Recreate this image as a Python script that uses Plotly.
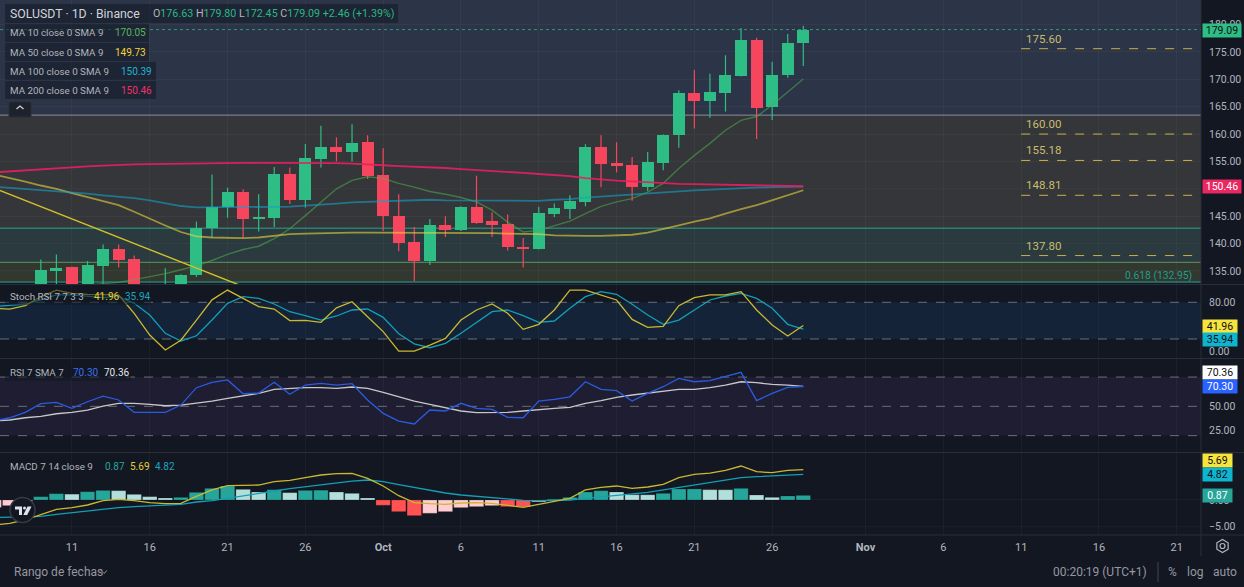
import math
import plotly.graph_objects as go
from plotly.subplots import make_subplots
import pandas as pd

# ---------------- data ----------------
dates = pd.date_range("2024-09-06", periods=53, freq="D")

open_ = [131.8, 128.0, 131.0, 130.2, 134.9, 135.7, 131.9, 135.9, 139.0, 137.1,
         131.0, 130.5, 132.2, 134.2, 142.8, 146.6, 149.5, 144.5, 144.65, 152.65,
         147.9, 155.5, 157.7, 156.7, 158.5, 152.5, 145.0, 140.2, 136.8, 143.3,
         142.5, 146.6, 144.05, 143.5, 139.35, 139.0, 145.4, 146.25, 147.6, 157.65,
         154.7, 154.3, 150.4, 154.7, 159.75, 167.5, 166.1, 167.55, 170.7, 177.1,
         164.9, 170.85, 176.63]
high_ = [132.5, 132.4, 132.6, 137.1, 138.0, 135.8, 136.8, 139.8, 139.8, 137.8,
         132.4, 135.5, 134.4, 144.0, 152.6, 150.2, 149.9, 149.0, 154.0, 153.9,
         158.2, 161.5, 159.4, 161.8, 159.8, 157.4, 149.0, 143.0, 144.5, 145.0,
         146.8, 152.4, 145.7, 145.3, 141.0, 146.7, 147.3, 148.8, 158.15, 159.8,
         158.5, 155.8, 156.7, 159.9, 168.0, 171.7, 171.0, 174.4, 179.4, 177.6,
         173.2, 178.3, 179.80]
low_ = [126.2, 127.3, 128.6, 129.5, 131.8, 129.5, 130.8, 131.9, 135.6, 130.4,
        127.7, 129.4, 128.6, 133.9, 141.1, 144.7, 141.1, 142.2, 143.0, 147.2,
        146.6, 153.9, 155.0, 155.0, 151.8, 142.3, 138.6, 133.1, 136.05, 141.2,
        142.3, 143.6, 141.2, 138.7, 135.6, 138.9, 144.8, 144.5, 146.8, 150.3,
        153.0, 147.8, 149.6, 153.4, 157.5, 161.0, 163.0, 164.1, 170.5, 159.1,
        162.55, 170.3, 172.45]
close_ = [128.0, 131.0, 130.2, 135.1, 135.6, 131.8, 136.0, 139.0, 137.0, 131.0,
          130.5, 132.2, 134.3, 142.8, 146.6, 149.5, 144.5, 144.8, 152.65, 147.9,
          155.6, 157.7, 156.7, 158.4, 152.4, 145.0, 140.15, 136.8, 143.3, 142.5,
          146.6, 143.75, 143.4, 139.35, 139.0, 145.5, 146.4, 147.7, 157.65, 154.6,
          154.2, 150.3, 154.85, 159.85, 167.5, 166.1, 167.7, 170.85, 177.1, 164.75,
          170.85, 176.7, 179.09]

ma10 = [131.0, 131.2, 131.4, 131.7, 132.0, 132.2, 132.4, 132.7, 132.9, 133.4,
        133.9, 134.5, 135.2, 135.9, 136.9, 138.0, 138.9, 139.5, 140.9, 142.7,
        145.1, 147.6, 150.0, 151.55, 152.2, 151.9, 151.0, 150.3, 149.5, 149.0,
        148.4, 147.6, 146.1, 143.9, 142.1, 142.4, 143.3, 144.1, 145.45, 146.8,
        147.6, 148.2, 149.4, 151.0, 153.7, 156.1, 158.3, 160.7, 162.5, 163.2,
        165.3, 167.7, 170.05]
ma50 = [152.6, 152.0, 151.3, 150.6, 150.0, 149.2, 148.5, 147.7, 147.0, 145.8,
        144.5, 143.3, 142.1, 141.3, 141.1, 141.0, 141.0, 141.1, 141.4, 141.7,
        141.8, 141.9, 141.9, 142.0, 142.0, 142.0, 141.9, 141.9, 141.9, 141.9,
        141.9, 141.9, 141.9, 141.8, 141.75, 141.7, 141.5, 141.4, 141.4, 141.4,
        141.45, 141.6, 142.0, 142.6, 143.3, 144.0, 144.6, 145.45, 146.3, 147.0,
        147.9, 148.8, 149.73]
ma100 = [150.4, 150.2, 150.0, 149.7, 149.55, 149.4, 149.1, 148.8, 148.6, 148.3,
         147.9, 147.4, 146.85, 146.6, 146.6, 146.6, 146.6, 146.6, 146.7, 146.75,
         146.9, 147.1, 147.3, 147.5, 147.6, 147.8, 147.9, 148.0, 148.0, 147.9,
         147.9, 147.8, 147.8, 147.8, 147.8, 147.8, 148.0, 148.1, 148.4, 148.6,
         148.8, 149.0, 149.2, 149.4, 149.55, 149.7, 149.85, 150.0, 150.1, 150.2,
         150.3, 150.35, 150.39]
ma200 = [153.0, 153.2, 153.4, 153.6, 153.8, 154.0, 154.1, 154.25, 154.4, 154.45,
         154.5, 154.55, 154.6, 154.7, 154.7, 154.75, 154.75, 154.75, 154.75, 154.75,
         154.75, 154.75, 154.7, 154.6, 154.5, 154.3, 154.15, 154.05, 154.0, 153.8,
         153.6, 153.45, 153.25, 153.1, 152.9, 152.7, 152.5, 152.3, 151.95, 151.7,
         151.5, 151.35, 151.2, 151.0, 150.9, 150.85, 150.8, 150.7, 150.65, 150.6,
         150.55, 150.5, 150.46]

stoch_k = [70, 69, 74.5, 89, 100, 94.7, 93, 93, 92, 62,
           26.5, 2, 18, 51, 84, 100, 86.5, 73, 69, 50,
           50.5, 47.3, 71, 81, 56.5, 32, 0, 0.3, 10, 21,
           51, 67.4, 77.2, 62, 35.8, 44, 67.4, 100, 100, 92,
           83.8, 52, 39, 40.7, 74.5, 87.5, 92, 92, 97.4, 67.4,
           42.8, 24.8, 41.96]
stoch_d = [73, 75, 77.2, 83.8, 92, 92, 89.8, 87.6, 89.2, 78.4,
           59.2, 29.3, 16.7, 25.3, 51, 78.4, 89.2, 86.5, 77.2, 64.6,
           58.1, 51, 57.6, 67.4, 69, 55.4, 28.5, 12, 5.7, 12.9,
           29.3, 47.3, 64.6, 67.4, 58.1, 47.3, 49.4, 70.2, 89.2, 97.4,
           93.1, 76.7, 59.2, 44, 51, 67.4, 83.8, 90.3, 94.7, 86.5,
           70.2, 44, 35.94]

rsi = [35, 38.3, 43.8, 52.7, 54.1, 47.9, 54.7, 60.5, 56.5, 43.8,
       43.8, 43.8, 51.3, 69.1, 74.6, 77, 62.9, 63.6, 74.6, 62.3,
       71.8, 73.5, 71.8, 73.2, 56.5, 42.8, 34.9, 31.9, 46.2, 45.2,
       53.1, 47.9, 46.9, 38.7, 38.3, 55.4, 57.1, 59.8, 75.2, 67.4,
       66, 55.4, 63.3, 70.1, 78.7, 75.2, 76.3, 80.3, 84.8, 55.8,
       63.3, 69.5, 70.30]
rsi_sma = [35, 36, 38.3, 39.7, 42.4, 43.8, 46.2, 50.3, 53.1, 53.1,
           52.0, 50.6, 51.3, 53.1, 55.4, 58.2, 60.9, 63.3, 67.4, 68.4,
           69.1, 69.1, 68.4, 69.8, 68.4, 64.3, 59.8, 55.4, 52, 48.6,
           45.2, 43.5, 43.5, 43.8, 45.2, 46.2, 47.9, 49, 53.1, 55.8,
           59.2, 61.6, 63.3, 65, 67.4, 67.4, 69.1, 71.8, 75.2, 74.2,
           72.5, 71.8, 70.36]

macd = [-4.7, -4.38, -3.75, -2.69, -1.75, -1.44, -0.94, -0.13, 0.13, -0.13,
        -0.5, -0.69, -0.63, 0.69, 1.88, 2.69, 2.81, 2.81, 3.44, 3.69,
        4.19, 4.69, 4.94, 5.0, 4.06, 2.63, 0.81, -0.5, -0.69, -0.81,
        -0.56, -0.5, -0.63, -0.94, -1.38, -0.81, -0.31, 0.31, 1.88, 2.38,
        2.63, 2.19, 2.44, 2.94, 4.19, 4.81, 5.06, 5.56, 6.38, 5.31,
        5.13, 5.56, 5.69]
signal = [-3.3, -3.25, -3.19, -3.06, -2.69, -2.38, -2.06, -1.69, -1.44, -1.25,
          -1.13, -0.94, -0.81, -0.38, -0.13, 0.31, 0.81, 1.25, 1.69, 2.13,
          2.5, 2.88, 3.19, 3.56, 3.75, 3.44, 2.88, 2.31, 1.81, 1.31,
          0.94, 0.69, 0.38, 0.19, -0.06, -0.13, -0.13, 0.0, 0.31, 0.63,
          0.88, 1.13, 1.44, 1.88, 2.38, 2.75, 3.25, 3.69, 4.19, 4.38,
          4.56, 4.75, 4.82]
hist = [-1.4, -1.06, -0.3, 0.63, 1.19, 1.1, 1.56, 1.81, 1.75, 1.06,
        0.63, 0.38, 0.5, 1.44, 2.19, 2.63, 2.0, 1.5, 1.94, 1.38,
        1.81, 1.85, 1.5, 1.25, 0.38, -1.0, -2.19, -2.94, -2.5, -2.19,
        -1.44, -1.25, -1.06, -1.25, -1.3, -0.35, 0.15, 0.5, 1.5, 1.75,
        1.5, 1.0, 0.98, 1.25, 2.06, 2.08, 1.94, 1.92, 2.19, 0.94,
        0.5, 0.75, 0.87]

# drawings
trend_x = ["2024-09-06", "2024-09-24"]
trend_y = [150.1, 129.9]
fib_levels = [163.46, 142.77, 136.54, 132.95]
hline_levels = [175.60, 160.00, 155.18, 148.81, 137.80]
tick_dates = ["2024-09-11", "2024-09-16", "2024-09-21", "2024-09-26", "2024-10-01",
              "2024-10-06", "2024-10-11", "2024-10-16", "2024-10-21", "2024-10-26",
              "2024-11-01", "2024-11-06", "2024-11-11", "2024-11-16", "2024-11-21"]
tick_text = ["11", "16", "21", "26", "<b>Oct</b>", "6", "11", "16", "21", "26",
             "<b>Nov</b>", "6", "11", "16", "21"]
price_ticks = [135, 140, 145, 155, 160, 165, 170, 175, 180]

# ---------------- styling ----------------
BG = "#131722"
GRID = "rgba(255,255,255,0.035)"
SEP = "#2a2e39"
TXT = "#b2b5be"
FONT = "Roboto"
UP, DN = "#2ebd85", "#f6465d"
PLOT_W, PLOT_H = 1201.0, 535.0
XR = ["2024-09-06 09:02", "2024-11-22 13:25"]
DAY_MS = 86400000


def fx(px):
    return px / PLOT_W


def fy(py):
    return (PLOT_H - py) / PLOT_H


def pt(x, y):
    return f"{fx(x):.5f},{fy(y):.5f}"


fig = make_subplots(rows=4, cols=1, shared_xaxes=True, vertical_spacing=0.0)

# ---- candles ----
is_up = [c >= o for o, c in zip(open_, close_)]
for flag, col in ((True, UP), (False, DN)):
    wx, wy = [], []
    for d, h, l, u in zip(dates, high_, low_, is_up):
        if u == flag:
            wx += [d, d, None]
            wy += [l, h, None]
    fig.add_trace(go.Scatter(x=wx, y=wy, mode="lines", line=dict(color=col, width=1.2),
                             hoverinfo="skip", showlegend=False), row=1, col=1)

fig.add_trace(go.Bar(x=dates,
                     y=[max(abs(c - o), 0.15) for o, c in zip(open_, close_)],
                     base=[min(o, c) for o, c in zip(open_, close_)],
                     width=0.771 * DAY_MS,
                     marker=dict(color=[UP if u else DN for u in is_up], line=dict(width=0)),
                     hoverinfo="skip", showlegend=False), row=1, col=1)

for vals, col, w in ((ma10, "rgba(76,175,80,0.55)", 1.4),
                     (ma50, "rgba(232,212,60,0.6)", 1.8),
                     (ma100, "rgba(20,160,200,0.6)", 1.8),
                     (ma200, "rgba(233,30,99,0.9)", 1.8)):
    fig.add_trace(go.Scatter(x=dates, y=vals, mode="lines", line=dict(color=col, width=w),
                             hoverinfo="skip", showlegend=False), row=1, col=1)

fig.add_trace(go.Scatter(x=trend_x, y=trend_y, mode="lines",
                         line=dict(color="#d2c02c", width=1.4),
                         hoverinfo="skip", showlegend=False), row=1, col=1)

# ---- stoch rsi ----
fig.add_trace(go.Scatter(x=dates, y=stoch_d, mode="lines", line=dict(color="#139fb8", width=1.3),
                         hoverinfo="skip", showlegend=False), row=2, col=1)
fig.add_trace(go.Scatter(x=dates, y=stoch_k, mode="lines", line=dict(color="#c9b932", width=1.3),
                         hoverinfo="skip", showlegend=False), row=2, col=1)

# ---- rsi ----
fig.add_trace(go.Scatter(x=dates, y=rsi_sma, mode="lines", line=dict(color="#c8c8c8", width=1.3),
                         hoverinfo="skip", showlegend=False), row=3, col=1)
fig.add_trace(go.Scatter(x=dates, y=rsi, mode="lines", line=dict(color="#2a5ce0", width=1.3),
                         hoverinfo="skip", showlegend=False), row=3, col=1)

# ---- macd ----
hcols = []
for i, v in enumerate(hist):
    prev = hist[i - 1] if i > 0 else v
    if v >= 0:
        c = "#26a69a" if v >= prev else "#b2dfdb"
    else:
        c = "#ff5252" if v < prev else "#ffcdd2"
    hcols.append(c)
fig.add_trace(go.Bar(x=dates, y=hist, width=0.93 * DAY_MS,
                     marker=dict(color=hcols, line=dict(width=0.8, color="rgba(0,0,0,0.25)")),
                     hoverinfo="skip", showlegend=False), row=4, col=1)
fig.add_trace(go.Scatter(x=dates, y=signal, mode="lines", line=dict(color="#139fb8", width=1.3),
                         hoverinfo="skip", showlegend=False), row=4, col=1)
fig.add_trace(go.Scatter(x=dates, y=macd, mode="lines", line=dict(color="#c9b932", width=1.3),
                         hoverinfo="skip", showlegend=False), row=4, col=1)

# ---------------- shapes ----------------
shapes = []
MAIN_TOP = 184.5
band_cols = ["#2c3447", "#353639", "#2b3a3f", "#323830"]
edges = [MAIN_TOP] + fib_levels
for i, col in enumerate(band_cols):
    shapes.append(dict(type="rect", xref="paper", yref="y", x0=0, x1=1, y0=edges[i + 1], y1=edges[i],
                       fillcolor=col, line=dict(width=0), layer="below"))
for lvl, col, w in zip(fib_levels, ["#8e9199", "#2a7f70", "#4f8550", "#26a69a"], [1, 1.5, 1.2, 1]):
    shapes.append(dict(type="line", xref="paper", yref="y", x0=0, x1=1, y0=lvl, y1=lvl,
                       line=dict(color=col, width=w), layer="below"))
# price grid line hidden behind the 150.46 box
shapes.append(dict(type="line", xref="paper", yref="y", x0=0, x1=1, y0=150, y1=150,
                   line=dict(color=GRID, width=1), layer="below"))
# last price dotted line
shapes.append(dict(type="line", xref="paper", yref="y", x0=0, x1=1, y0=close_[-1], y1=close_[-1],
                   line=dict(color="rgba(46,189,133,0.75)", width=1, dash="dot")))
# user horizontal lines
for lv in hline_levels:
    shapes.append(dict(type="line", xref="x", yref="y", x0="2024-11-11", x1=XR[1], y0=lv, y1=lv,
                       line=dict(color="#c7b14c", width=1, dash="dash")))
# stoch band
shapes.append(dict(type="rect", xref="paper", yref="y2", x0=0, x1=1, y0=20, y1=80,
                   fillcolor="rgba(33,150,243,0.10)", line=dict(width=0), layer="below"))
for lv in (20, 80):
    shapes.append(dict(type="line", xref="paper", yref="y2", x0=0, x1=1, y0=lv, y1=lv,
                       line=dict(color="#6a6d78", width=1, dash="dash"), layer="below"))
# rsi band
shapes.append(dict(type="rect", xref="paper", yref="y3", x0=0, x1=1, y0=20, y1=80,
                   fillcolor="rgba(126,87,194,0.10)", line=dict(width=0), layer="below"))
for lv in (20, 50, 80):
    shapes.append(dict(type="line", xref="paper", yref="y3", x0=0, x1=1, y0=lv, y1=lv,
                       line=dict(color="#6a6d78", width=1, dash="dash"), layer="below"))
# pane separators
for py in (284.5, 358.5, 452.5, 535):
    shapes.append(dict(type="line", xref="paper", yref="paper", x0=0, x1=fx(1244), y0=fy(py), y1=fy(py),
                       line=dict(color=SEP, width=1)))
shapes.append(dict(type="line", xref="paper", yref="paper", x0=1, x1=1, y0=fy(0), y1=fy(556),
                   line=dict(color=SEP, width=1)))
# legend background boxes
for (x0, y0, x1, y1) in [(5, 4, 398, 23), (5, 24, 149, 42), (5, 43, 149, 61), (5, 62, 156, 80),
                         (5, 81, 156, 99), (5, 288, 151, 305), (5, 364, 131, 381)]:
    shapes.append(dict(type="rect", xref="paper", yref="paper", x0=fx(x0), x1=fx(x1), y0=fy(y1), y1=fy(y0),
                       fillcolor="rgba(19,23,34,0.55)", line=dict(width=0)))
# collapse button
shapes.append(dict(type="rect", xref="paper", yref="paper", x0=fx(9), x1=fx(31), y0=fy(117), y1=fy(102),
                   fillcolor="#1e222d", line=dict(color="#2a2e39", width=1)))
shapes.append(dict(type="path", xref="paper", yref="paper",
                   path=f"M{pt(16.5, 109)} L{pt(20, 106)} L{pt(23.5, 109)}",
                   line=dict(color="#d1d4dc", width=1.2)))
# TradingView logo
shapes.append(dict(type="circle", xref="paper", yref="paper", x0=fx(10), x1=fx(35), y0=fy(522.5), y1=fy(497.5),
                   fillcolor="#131722", line=dict(color="#363a45", width=1.5)))
shapes.append(dict(type="path", xref="paper", yref="paper",
                   path=f"M{pt(15, 506.5)} L{pt(22, 506.5)} L{pt(22, 515)} L{pt(19, 515)} L{pt(19, 509.5)} L{pt(15, 509.5)} Z",
                   fillcolor="#e0e3eb", line=dict(width=0)))
shapes.append(dict(type="circle", xref="paper", yref="paper", x0=fx(23), x1=fx(26), y0=fy(509.5), y1=fy(506.5),
                   fillcolor="#e0e3eb", line=dict(width=0)))
shapes.append(dict(type="path", xref="paper", yref="paper",
                   path=f"M{pt(27.5, 506.5)} L{pt(31.5, 506.5)} L{pt(27.2, 515)} L{pt(23.3, 515)} Z",
                   fillcolor="#e0e3eb", line=dict(width=0)))
# gear icon
hexpts = [(1222.5 + 6.5 * math.cos(math.radians(a)), 546 + 6.5 * math.sin(math.radians(a)))
          for a in range(30, 390, 60)]
shapes.append(dict(type="path", xref="paper", yref="paper",
                   path="M" + " L".join(pt(x, y) for x, y in hexpts) + " Z",
                   line=dict(color=TXT, width=1.2)))
shapes.append(dict(type="circle", xref="paper", yref="paper", x0=fx(1220), x1=fx(1225), y0=fy(548.5), y1=fy(543.5),
                   line=dict(color=TXT, width=1.2)))
# date range chevron and bottom separator
shapes.append(dict(type="path", xref="paper", yref="paper",
                   path=f"M{pt(101, 570.5)} L{pt(104, 573.5)} L{pt(107, 570.5)}",
                   line=dict(color="#9598a1", width=1)))
shapes.append(dict(type="line", xref="paper", yref="paper", x0=fx(1158), x1=fx(1158), y0=fy(582), y1=fy(562),
                   line=dict(color="#434651", width=1)))

# ---------------- annotations ----------------
ann = []


def text(x, y, s, size=11, color=TXT, xanchor="left", **kw):
    ann.append(dict(xref="paper", yref="paper", x=fx(x), y=fy(y), text=s, showarrow=False,
                    xanchor=xanchor, yanchor="middle", font=dict(family=FONT, size=size, color=color), **kw))


def span(s, c):
    return f'<span style="color:{c}">{s}</span>'


G = "#29b886"
text(8, 14, "SOLUSDT · 1D · Binance", size=12.3, color="#d1d4dc")
text(151, 14, span("O", TXT) + span("176.63", G) + "\u00a0" + span("H", TXT) + span("179.80", G) + "\u00a0" +
     span("L", TXT) + span("172.45", G) + "\u00a0" + span("C", TXT) + span("179.09", G) + "\u00a0" +
     span("+2.46 (+1.39%)", G), size=10.7)
for y, lab, val, vx, c in ((33, "MA 10 close 0 SMA 9", "170.05", 113, "#5bb45e"),
                           (52, "MA 50 close 0 SMA 9", "149.73", 113, "#f2d43b"),
                           (71, "MA 100 close 0 SMA 9", "150.39", 119, "#1fb3d3"),
                           (90, "MA 200 close 0 SMA 9", "150.46", 119, "#f0306a")):
    text(8, y, lab, size=9.8)
    text(vx, y, val, size=10, color=c)
text(8, 296.5, "Stoch RSI 7 7 3 3", size=9.8)
text(92, 296.5, "41.96", size=10, color="#e3cf33")
text(123, 296.5, "35.94", size=10, color="#1ba5be")
text(8, 372.5, "RSI 7 SMA 7", size=9.8)
text(71, 372.5, "70.30", size=10, color="#3d6df2")
text(102, 372.5, "70.36", size=10, color="#e8e8e8")
text(8, 466, "MACD 7 14 close 9", size=9.8)
text(103, 466, "0.87", size=10, color="#26a69a")
text(128, 466, "5.69", size=10, color="#e3cf33")
text(153, 466, "4.82", size=10, color="#1ba5be")

# level labels
for lv in hline_levels:
    ann.append(dict(xref="x", yref="y", x="2024-11-11 04:00", y=lv, yshift=10, text=f"{lv:.2f}",
                    showarrow=False, xanchor="left", yanchor="middle",
                    font=dict(family=FONT, size=11.5, color="#c8be6e")))
text(1194, 275.5, "0.618 (132.95)", size=10.3, color="#1e9e8c", xanchor="right")

# axis price boxes
for cy, s, bg, fg, w in ((30.5, "179.09", "#2ebd85", "#0c0e15", 38),
                         (186.5, "150.46", "#eb2761", "#ffffff", 38),
                         (326, "41.96", "#f7e43c", "#0c0e15", 34),
                         (339.5, "35.94", "#0fb5cf", "#0c0e15", 34),
                         (372, "70.36", "#ffffff", "#0c0e15", 34),
                         (386.5, "70.30", "#2962ff", "#ffffff", 34),
                         (460.5, "5.69", "#f7e43c", "#0c0e15", 29),
                         (474.2, "4.82", "#0fb5cf", "#0c0e15", 29),
                         (495.7, "0.87", "#26a69a", "#ffffff", 29)):
    ann.append(dict(xref="paper", yref="paper", x=fx(1201.5), y=fy(cy), text=s, showarrow=False,
                    xanchor="left", yanchor="middle", width=w, height=13, borderpad=0, align="center",
                    bgcolor=bg, font=dict(family=FONT, size=10.5, color=fg)))

# bottom bar
text(12, 572, "Rango de fechas", size=12, color="#9598a1")
text(1149, 572, "00:20:19 (UTC+1)", size=12, color="#9598a1", xanchor="right")
text(1172, 572, "%", size=12, color="#9598a1", xanchor="center")
text(1195, 572, "log", size=12, color="#9598a1", xanchor="center")
text(1225, 572, "auto", size=12, color="#9598a1", xanchor="center")

# ---------------- layout ----------------
fig.update_layout(
    width=1244, height=587, margin=dict(l=0, r=43, t=0, b=52),
    paper_bgcolor=BG, plot_bgcolor=BG, template="none",
    showlegend=False, barmode="overlay", bargap=0,
    font=dict(family=FONT, color=TXT),
    shapes=shapes, annotations=ann, hovermode=False,
)

xcommon = dict(type="date", range=XR, tickvals=tick_dates, ticktext=tick_text, showgrid=True,
               gridcolor=GRID, gridwidth=1, zeroline=False, showline=False, ticks="",
               fixedrange=True)
for i in range(1, 5):
    fig.update_layout(**{f"xaxis{'' if i == 1 else i}": dict(xcommon, showticklabels=(i == 4),
                                                               tickfont=dict(family=FONT, size=11, color=TXT),
                                                               ticklabelstandoff=4)})

ycommon = dict(side="right", ticks="", ticklabelstandoff=7, zeroline=False, showline=False,
               fixedrange=True, tickfont=dict(family=FONT, size=10.5, color=TXT))
fig.update_layout(
    yaxis=dict(ycommon, domain=[fy(284), fy(0)], range=[132.6, MAIN_TOP],
               tickvals=price_ticks, ticktext=[f"{v:.2f}" for v in price_ticks],
               showgrid=True, gridcolor=GRID),
    yaxis2=dict(ycommon, domain=[fy(358), fy(285)], range=[-11.1, 108.3],
                tickvals=[0, 80], ticktext=["0.00", "80.00"], showgrid=False),
    yaxis3=dict(ycommon, domain=[fy(452), fy(359)], range=[3.2, 98.5],
                tickvals=[25, 50], ticktext=["25.00", "50.00"], showgrid=False),
    yaxis4=dict(ycommon, domain=[0, fy(453)], range=[-6.57, 8.82],
                tickvals=[-5, 0], ticktext=["\u22125.00", "0.00"],
                showgrid=True, gridcolor="rgba(255,255,255,0.03)"),
)

fig.write_html("out.html", include_plotlyjs=True, full_html=True,
               config={"displayModeBar": False, "staticPlot": True},
               post_script="document.body.style.margin='0';document.body.style.overflow='hidden';")
